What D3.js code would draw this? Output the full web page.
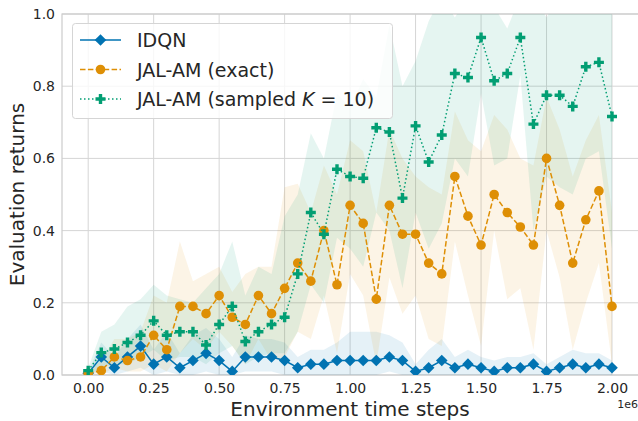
<!DOCTYPE html>
<html>
<head>
<meta charset="utf-8">
<script src="https://cdn.jsdelivr.net/npm/d3@7"></script>
<style>
  body { margin: 0; background: #fff; }
  svg { display: block; font-family: "DejaVu Sans", sans-serif; }
</style>
</head>
<body>
<div id="chart"></div>
<script>
// x positions in environment steps (every 50k)
const steps = [0, 50000, 100000, 150000, 200000, 250000, 300000, 350000, 400000, 450000,
  500000, 550000, 600000, 650000, 700000, 750000, 800000, 850000, 900000, 950000,
  1000000, 1050000, 1100000, 1150000, 1200000, 1250000, 1300000, 1350000, 1400000, 1450000,
  1500000, 1550000, 1600000, 1650000, 1700000, 1750000, 1800000, 1850000, 1900000, 1950000, 2000000];

const idqn = [0.005, 0.05, 0.02, 0.05, 0.08, 0.03, 0.05, 0.02, 0.04, 0.06,
  0.04, 0.01, 0.05, 0.05, 0.05, 0.04, 0.02, 0.03, 0.03, 0.04,
  0.04, 0.04, 0.04, 0.05, 0.04, 0.01, 0.02, 0.04, 0.02, 0.03,
  0.02, 0.01, 0.02, 0.02, 0.03, 0.01, 0.02, 0.03, 0.02, 0.03, 0.02];
const idqnLo = [0, 0.01, 0, 0.01, 0.02, 0, 0.01, 0, 0, 0.01,
  0, 0, 0.01, 0.01, 0.01, 0, 0, 0, 0, 0,
  0, 0, 0, 0.01, 0, 0, 0, 0, 0, 0,
  0, 0, 0, 0, 0, 0, 0, 0, 0, 0, 0];
const idqnHi = [0.01, 0.09, 0.05, 0.10, 0.14, 0.07, 0.12, 0.06, 0.11, 0.13,
  0.10, 0.05, 0.11, 0.10, 0.10, 0.09, 0.05, 0.07, 0.07, 0.09,
  0.12, 0.12, 0.12, 0.11, 0.09, 0.03, 0.07, 0.10, 0.05, 0.07,
  0.05, 0.04, 0.05, 0.05, 0.06, 0.03, 0.05, 0.07, 0.06, 0.06, 0.04];

const exact = [0.005, 0.012, 0.05, 0.04, 0.05, 0.11, 0.07, 0.19, 0.19, 0.17,
  0.22, 0.16, 0.14, 0.22, 0.17, 0.24, 0.31, 0.26, 0.40, 0.25,
  0.47, 0.42, 0.21, 0.47, 0.39, 0.39, 0.31, 0.28, 0.55, 0.44,
  0.36, 0.50, 0.45, 0.41, 0.36, 0.60, 0.47, 0.31, 0.43, 0.51, 0.19];
const exactLo = [0, 0, 0.02, 0.01, 0.01, 0.03, 0.01, 0.06, 0.10, 0.07,
  0.12, 0.08, 0.03, 0.10, 0.04, 0.05, 0.12, 0.10, 0.22, 0.06,
  0.28, 0.22, 0.03, 0.27, 0.17, 0.22, 0.10, 0.08, 0.37, 0.22,
  0.08, 0.40, 0.21, 0.24, 0.07, 0.40, 0.27, 0.07, 0.20, 0.31, 0.03];
const exactHi = [0.01, 0.04, 0.10, 0.10, 0.12, 0.22, 0.20, 0.37, 0.26, 0.28,
  0.30, 0.23, 0.28, 0.30, 0.30, 0.52, 0.53, 0.45, 0.58, 0.50,
  0.65, 0.62, 0.45, 0.68, 0.60, 0.55, 0.52, 0.50, 0.73, 0.65,
  0.62, 0.72, 0.68, 0.60, 0.58, 0.77, 0.68, 0.55, 0.65, 0.72, 0.45];

const sampled = [0.012, 0.062, 0.072, 0.09, 0.11, 0.15, 0.11, 0.12, 0.12, 0.083,
  0.14, 0.19, 0.093, 0.12, 0.14, 0.16, 0.28, 0.45, 0.39, 0.57,
  0.55, 0.545, 0.685, 0.673, 0.49, 0.69, 0.59, 0.665, 0.835, 0.824,
  0.935, 0.815, 0.835, 0.935, 0.695, 0.775, 0.775, 0.744, 0.854, 0.866, 0.716];
const sampledLo = [0, 0.02, 0.03, 0.03, 0.05, 0.07, 0.04, 0.05, 0.05, 0.03,
  0.06, 0.08, 0.03, 0.05, 0.06, 0.06, 0.12, 0.25, 0.20, 0.38,
  0.35, 0.30, 0.45, 0.40, 0.24, 0.45, 0.35, 0.42, 0.60, 0.55,
  0.78, 0.58, 0.60, 0.83, 0.40, 0.55, 0.52, 0.50, 0.60, 0.62, 0.35];
const sampledHi = [0.02, 0.12, 0.14, 0.19, 0.21, 0.25, 0.22, 0.21, 0.20, 0.24,
  0.28, 0.37, 0.22, 0.30, 0.28, 0.44, 0.50, 0.67, 0.60, 0.78,
  0.74, 0.82, 0.77, 0.97, 0.80, 0.87, 0.98, 1.05, 0.99, 1.05,
  1.05, 1.02, 0.96, 1.05, 1.05, 0.99, 1.05, 1.05, 1.05, 1.05, 1.05];

const xTicks = [0, 250000, 500000, 750000, 1000000, 1250000, 1500000, 1750000, 2000000];
const yTicks = [0, 0.2, 0.4, 0.6, 0.8, 1.0];

const width = 638, height = 421;
const margin = { left: 62, right: 0, top: 14, bottom: 46 };

const svg = d3.select('#chart').append('svg')
  .attr('width', width)
  .attr('height', height);

const x = d3.scaleLinear().domain([-100000, 2100000]).range([margin.left, 638.2]);
const y = d3.scaleLinear().domain([0, 1]).range([height - margin.bottom, margin.top]);

svg.append('clipPath').attr('id', 'plot')
  .append('rect')
  .attr('x', margin.left).attr('y', margin.top)
  .attr('width', width - margin.left).attr('height', y(0) - margin.top);

// grid
const gridColor = '#d5d5d5';
svg.append('g').selectAll('line').data(xTicks).enter().append('line')
  .attr('x1', d => x(d)).attr('x2', d => x(d))
  .attr('y1', margin.top).attr('y2', y(0))
  .attr('stroke', gridColor).attr('stroke-width', 1);
svg.append('g').selectAll('line').data(yTicks).enter().append('line')
  .attr('x1', margin.left).attr('x2', width)
  .attr('y1', d => y(d)).attr('y2', d => y(d))
  .attr('stroke', gridColor).attr('stroke-width', 1);

// spines
svg.append('rect')
  .attr('x', margin.left).attr('y', margin.top)
  .attr('width', width - margin.left + 2).attr('height', y(0) - margin.top)
  .attr('fill', 'none').attr('stroke', '#cccccc').attr('stroke-width', 1.2);

const series = [
  { name: 'IDQN', color: '#0173b2', mean: idqn, lo: idqnLo, hi: idqnHi, dash: null, marker: 'diamond' },
  { name: 'JAL-AM (exact)', color: '#de8f05', mean: exact, lo: exactLo, hi: exactHi, dash: '5.5,2.4', marker: 'circle' },
  { name: 'sampled', color: '#029e73', mean: sampled, lo: sampledLo, hi: sampledHi, dash: '1.5,2.5', marker: 'plus' }
];

const plot = svg.append('g').attr('clip-path', 'url(#plot)');

const area = d3.area()
  .x((d, i) => x(steps[i]))
  .y0(d => y(d[0]))
  .y1(d => y(d[1]));

series.forEach(s => {
  plot.append('path')
    .datum(s.lo.map((v, i) => [v, s.hi[i]]))
    .attr('d', area)
    .attr('fill', s.color)
    .attr('fill-opacity', 0.1);
});

const line = d3.line()
  .x((d, i) => x(steps[i]))
  .y(d => y(d));

function marker(g, type, color) {
  if (type === 'diamond') {
    g.append('path').attr('d', 'M0,-5.8L5.8,0L0,5.8L-5.8,0Z').attr('fill', color);
  } else if (type === 'circle') {
    g.append('circle').attr('r', 4.8).attr('fill', color);
  } else {
    const a = 1.7, b = 5;
    g.append('path')
      .attr('d', `M${-a},${-b}H${a}V${-a}H${b}V${a}H${a}V${b}H${-a}V${a}H${-b}V${-a}H${-a}Z`)
      .attr('fill', color);
  }
}

series.forEach(s => {
  plot.append('path')
    .datum(s.mean)
    .attr('d', line)
    .attr('fill', 'none')
    .attr('stroke', s.color)
    .attr('stroke-width', 1.5)
    .attr('stroke-dasharray', s.dash);
  plot.append('g').selectAll('g').data(s.mean).enter().append('g')
    .attr('transform', (d, i) => `translate(${x(steps[i])},${y(d)})`)
    .each(function() { marker(d3.select(this), s.marker, s.color); });
});

// axes
const xAxis = svg.append('g')
  .attr('transform', `translate(0,${y(0)})`)
  .call(d3.axisBottom(x).tickValues(xTicks).tickSize(0).tickPadding(8)
    .tickFormat(d => (d / 1e6).toFixed(2)));
const yAxis = svg.append('g')
  .attr('transform', `translate(${margin.left},0)`)
  .call(d3.axisLeft(y).tickValues(yTicks).tickSize(0).tickPadding(7)
    .tickFormat(d3.format('.1f')));
[xAxis, yAxis].forEach(a => {
  a.select('.domain').remove();
  a.selectAll('text').attr('font-size', 14).attr('fill', '#262626')
    .attr('font-family', '"DejaVu Sans", sans-serif');
});

svg.append('text')
  .attr('x', 638).attr('y', 408)
  .attr('text-anchor', 'end')
  .attr('font-size', 11).attr('fill', '#262626')
  .text('1e6');

svg.append('text')
  .attr('x', (88 + 612) / 2).attr('y', 416)
  .attr('text-anchor', 'middle')
  .attr('font-size', 20).attr('fill', '#262626')
  .text('Environment time steps');

svg.append('text')
  .attr('transform', `translate(24,${(margin.top + y(0)) / 2}) rotate(-90)`)
  .attr('text-anchor', 'middle')
  .attr('font-size', 20).attr('fill', '#262626')
  .text('Evaluation returns');

// legend
const legend = svg.append('g');
legend.append('rect')
  .attr('x', 72.5).attr('y', 23.5).attr('width', 320).attr('height', 95)
  .attr('rx', 3)
  .attr('fill', '#fff').attr('fill-opacity', 0.8)
  .attr('stroke', '#d5d5d5');

series.forEach((s, i) => {
  const ly = 40 + i * 29.5;
  legend.append('line')
    .attr('x1', 80).attr('x2', 121).attr('y1', ly).attr('y2', ly)
    .attr('stroke', s.color).attr('stroke-width', 1.5)
    .attr('stroke-dasharray', s.dash);
  const g = legend.append('g').attr('transform', `translate(100.5,${ly})`);
  marker(g, s.marker, s.color);
  const t = legend.append('text')
    .attr('x', 137).attr('y', ly + 7)
    .attr('font-size', 19).attr('fill', '#262626');
  if (s.name === 'sampled') {
    t.append('tspan').text('JAL-AM (sampled ');
    t.append('tspan').attr('font-style', 'italic').text('K');
    t.append('tspan').text(' = 10)');
  } else {
    t.text(s.name);
  }
});
</script>
</body>
</html>
